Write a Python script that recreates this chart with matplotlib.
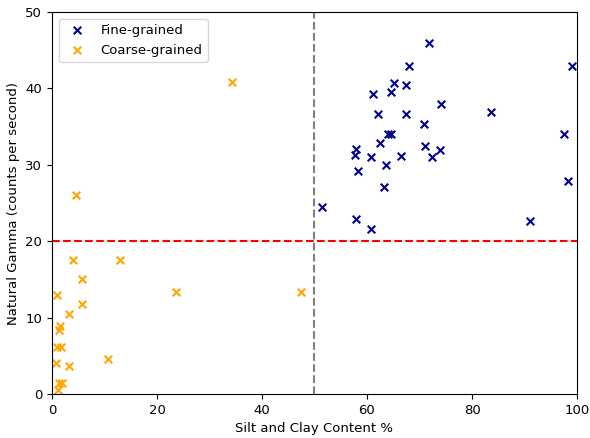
import matplotlib
matplotlib.use("Agg")
import matplotlib.pyplot as plt

# fine-grained samples (silt+clay %, gamma cps)
fine_x = [51.5, 58.0, 60.7, 58.0, 57.7, 58.3, 60.7, 61.1, 62.1, 62.5, 63.2,
          63.6, 64.0, 64.5, 64.5, 65.2, 66.4, 67.5, 67.5, 68.0, 70.9, 71.0,
          71.9, 72.4, 74.1, 74.0, 83.7, 91.1, 97.6, 98.3, 99.0]
fine_y = [24.5, 22.9, 21.6, 32.1, 31.3, 29.2, 31.0, 39.3, 36.7, 32.9, 27.1,
          30.0, 34.0, 34.0, 39.5, 40.7, 31.1, 40.5, 36.6, 43.0, 35.3, 32.5,
          45.9, 31.0, 38.0, 31.9, 36.9, 22.7, 34.1, 27.9, 43.0]

# coarse-grained samples
coarse_x = [4.5, 4.1, 12.9, 5.8, 0.9, 23.6, 5.7, 3.2, 1.6, 1.3, 0.9, 1.7,
            0.8, 3.2, 10.6, 1.3, 1.9, 1.1, 34.3, 47.4]
coarse_y = [26.1, 17.6, 17.6, 15.0, 13.0, 13.4, 11.8, 10.5, 8.9, 8.4, 6.2,
            6.2, 4.0, 3.6, 4.6, 1.5, 1.5, 0.5, 40.8, 13.3]

x_cut = 50
y_cut = 20

fig = plt.figure(figsize=(5.9, 4.38), dpi=100)
ax = fig.add_axes([0.088, 0.1005, 0.89, 0.872])

ax.scatter(fine_x, fine_y, marker="x", color="darkblue", s=30, label="Fine-grained")
ax.scatter(coarse_x, coarse_y, marker="x", color="orange", s=30, label="Coarse-grained")

ax.axvline(x_cut, color="gray", linestyle="--", linewidth=1.5)
ax.axhline(y_cut, color="red", linestyle="--", linewidth=1.5)

ax.set_xlim(0, 100)
ax.set_ylim(0, 50)
ax.set_xlabel("Silt and Clay Content %", fontsize=9.5)
ax.set_ylabel("Natural Gamma (counts per second)", fontsize=9.5)
ax.tick_params(labelsize=9.5)
ax.legend(loc="upper left", fontsize=9.5)

fig.savefig("out.png", dpi=100)
